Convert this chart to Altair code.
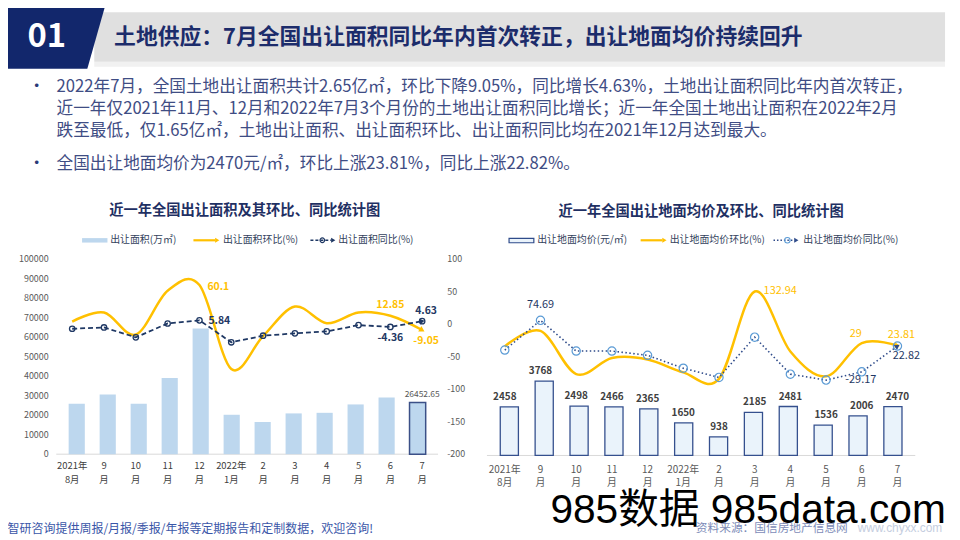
import altair as alt
import pandas as pd

OFF = 8
W, H = 952, 532
FONT = "Noto Sans CJK SC"
NAVY = "#12276C"
TNAVY = "#1C2C6B"
CNAVY = "#1F3063"
LNAVY = "#1F3864"
RNAVY = "#2F4B8A"
YEL = "#FFC000"
GREY = "#595959"
LEG = "#333F5C"

# ---------------- data ----------------
months_top = ["2021年", "9", "10", "11", "12", "2022年", "2", "3", "4", "5", "6", "7"]
months_bot = ["8月", "月", "月", "月", "月", "1月", "月", "月", "月", "月", "月", "月"]

area = [25800, 30600, 25800, 39100, 64400, 20200, 16500, 20900, 21200, 25500, 29000, 26452.65]
area_mom = [4.0, 17.8, -16.0, 51.3, 60.1, -69.0, -18.4, 27.0, 1.5, 18.0, 12.85, -9.05]
area_yoy = [-7.1, -5.1, -20.3, 1.0, 5.84, -27.9, -17.8, -14.2, -11.2, -1.5, -4.36, 4.63]
area_ticks = [0, 10000, 20000, 30000, 40000, 50000, 60000, 70000, 80000, 90000, 100000]
pct_ticks = [100, 50, 0, -50, -100, -150, -200]

price = [2458, 3768, 2498, 2466, 2365, 1650, 938, 2185, 2481, 1536, 2006, 2470]
price_mom = [22.0, 53.3, -33.7, -1.3, -4.1, -30.2, -43.2, 132.94, 12.0, -38.1, 29.0, 23.81]
price_yoy = [14.8, 74.69, 12.8, 12.8, 4.2, -21.8, -40.4, 40.8, -33.8, -45.8, -29.17, 22.82]

header_no = "01"
header_title = "土地供应：7月全国出让面积同比年内首次转正，出让地面均价持续回升"
bullet_lines = [
    "2022年7月，全国土地出让面积共计2.65亿㎡，环比下降9.05%，同比增长4.63%，土地出让面积同比年内首次转正，",
    "近一年仅2021年11月、12月和2022年7月3个月份的土地出让面积同比增长；近一年全国土地出让面积在2022年2月",
    "跌至最低，仅1.65亿㎡，土地出让面积、出让面积环比、出让面积同比均在2021年12月达到最大。",
    "全国出让地面均价为2470元/㎡，环比上涨23.81%，同比上涨22.82%。",
]
left_title = "近一年全国出让面积及其环比、同比统计图"
right_title = "近一年全国出让地面均价及环比、同比统计图"
left_legend = ["出让面积(万㎡)", "出让面积环比(%)", "出让面积同比(%)"]
right_legend = ["出让地面均价(元/㎡)", "出让地面均价环比(%)", "出让地面均价同比(%)"]
footer_left = "智研咨询提供周报/月报/季报/年报等定期报告和定制数据，欢迎咨询!"
footer_src = "资料来源：国信房地产信息网"
footer_url = "www.chyxx.com"
stamp = "985数据 985data.com"

layers = []


def P(v):
    return v - OFF


def one():
    return pd.DataFrame({"a": [0]})


def text(s, x, y, size, color, weight="normal", align="left", baseline="middle", font=FONT):
    layers.append(
        alt.Chart(pd.DataFrame({"t": [s]}))
        .mark_text(x=P(x), y=P(y), fontSize=size, color=color, fontWeight=weight,
                   align=align, baseline=baseline, font=font)
        .encode(text="t:N")
    )


def rect(x0, x1, y0, y1, fill, stroke=None, sw=0):
    kw = dict(fill=fill)
    if stroke:
        kw.update(stroke=stroke, strokeWidth=sw)
    layers.append(
        alt.Chart(one()).mark_rect(**kw).encode(
            x=alt.value(P(x0)), x2=alt.value(P(x1)), y=alt.value(P(y0)), y2=alt.value(P(y1)))
    )


def hline(x0, x1, y, color, sw, dash=None):
    kw = dict(color=color, strokeWidth=sw)
    if dash:
        kw["strokeDash"] = dash
    layers.append(
        alt.Chart(one()).mark_rule(**kw).encode(
            x=alt.value(P(x0)), x2=alt.value(P(x1)), y=alt.value(P(y)))
    )


def sym(x, y, shape, size, color, angle=0, filled=True, sw=1.0):
    kw = dict(shape=shape, size=size, opacity=1, angle=angle)
    if filled:
        kw.update(filled=True, fill=color, strokeWidth=0)
    else:
        kw.update(filled=False, stroke=color, strokeWidth=sw)
    layers.append(alt.Chart(one()).mark_point(**kw).encode(x=alt.value(P(x)), y=alt.value(P(y))))


def poly(pts, fill):
    xs = [P(a) for a, b in pts]
    ys = [P(b) for a, b in pts]
    cx = (min(xs) + max(xs)) / 2
    cy = (min(ys) + max(ys)) / 2
    s = max(max(xs) - min(xs), max(ys) - min(ys)) / 2
    d = "M" + "L".join(f"{(a - cx) / s:.4f},{(b - cy) / s:.4f}" for a, b in zip(xs, ys)) + "Z"
    layers.append(
        alt.Chart(one()).mark_point(shape=d, size=(2 * s) ** 2, filled=True, fill=fill,
                                    opacity=1, strokeWidth=0)
        .encode(x=alt.value(cx), y=alt.value(cy))
    )


def sc(domain, r0, r1):
    return alt.Scale(domain=domain, range=[P(r0), P(r1)], nice=False, zero=False)


def fmt(v):
    s = f"{v:.2f}".rstrip("0").rstrip(".")
    return s


# ---------------- header ----------------
rect(95, 953, 60, 65, "#F1F1F1")
rect(95, 953, 10, 60, "#E0E0E0")
poly([(0, 0), (107, 0), (88, 67), (0, 67)], NAVY)
text(header_no, 47, 35, 33, "white", weight="bold", align="center")
text(header_title, 115, 35, 22, TNAVY, weight="bold")

# ---------------- bullets ----------------
bullet_y = [85, 107.5, 130, 163]
for i, s in enumerate(bullet_lines):
    text(s, 57, bullet_y[i], 16.8, "#3F4D84")
text("•", 37, bullet_y[0], 17, "#2A3A78", align="center")
text("•", 37, bullet_y[3], 17, "#2A3A78", align="center")

# ---------------- left chart ----------------
dfL = pd.DataFrame({"idx": list(range(12)), "area": area, "mom": area_mom, "yoy": area_yoy,
                    "top": months_top, "bot": months_bot})
LXs = lambda: sc([-0.5, 11.5], 56.7, 441.7)
LA = lambda: sc([0, 100000], 455.7, 259)
LP = lambda: sc([-200, 100], 455.7, 259)

text(left_title, 246.7, 211, 14.4, CNAVY, weight="bold", align="center")
rect(82.7, 108.3, 237.8, 242.3, "#BDD7EE")
text(left_legend[0], 111, 240, 10, LEG)
hline(195, 217, 240, YEL, 2.2)
sym(219, 240, "triangle-right", 24, YEL)
text(left_legend[1], 224.7, 240, 10, LEG)
hline(313, 334, 240, LNAVY, 1.6, [3, 2])
sym(325, 240, "circle", 22, LNAVY, filled=False, sw=1.2)
sym(336, 240, "triangle-right", 24, LNAVY)
text(left_legend[2], 341, 240, 10, LEG)

hline(56.7, 441.7, 455.7, "#D9D9D9", 1)

layers.append(
    alt.Chart(dfL).mark_bar(size=16.3, fill="#BDD7EE").encode(
        x=alt.X("idx:Q", scale=LXs(), axis=None),
        y=alt.Y("area:Q", scale=LA(), axis=None),
        stroke=alt.condition("datum.idx == 11", alt.value("#3B5087"), alt.value("transparent")),
        strokeWidth=alt.condition("datum.idx == 11", alt.value(1.5), alt.value(0)),
    )
)
layers.append(
    alt.Chart(dfL).mark_line(interpolate="cardinal", color=YEL, strokeWidth=2.5).encode(
        x=alt.X("idx:Q", scale=LXs(), axis=None), y=alt.Y("mom:Q", scale=LP(), axis=None))
)
layers.append(
    alt.Chart(dfL).mark_line(color=LNAVY, strokeWidth=1.8, strokeDash=[5, 3]).encode(
        x=alt.X("idx:Q", scale=LXs(), axis=None), y=alt.Y("yoy:Q", scale=LP(), axis=None))
)
layers.append(
    alt.Chart(dfL).mark_point(shape="circle", filled=False, size=30, color=LNAVY, strokeWidth=1.3,
                              opacity=1).encode(
        x=alt.X("idx:Q", scale=LXs(), axis=None), y=alt.Y("yoy:Q", scale=LP(), axis=None))
)


def end_arrow(df, field, xs, ys, color, angle, size=40):
    layers.append(
        alt.Chart(df).transform_filter("datum.idx == 11")
        .mark_point(shape="triangle-right", filled=True, fill=color, strokeWidth=0, size=size,
                    opacity=1, angle=angle)
        .encode(x=alt.X("idx:Q", scale=xs, axis=None), y=alt.Y(f"{field}:Q", scale=ys, axis=None))
    )


end_arrow(dfL, "mom", LXs(), LP(), YEL, 30)
end_arrow(dfL, "yoy", LXs(), LP(), LNAVY, 350, 34)


def pt_label(values, idx, xs, ys, dx, dy, align, color, weight="bold", size=10.5):
    d = pd.DataFrame({"idx": [idx], "v": [values[idx]], "t": [fmt(values[idx])]})
    layers.append(
        alt.Chart(d).mark_text(dx=dx, dy=dy, align=align, baseline="middle", color=color,
                               fontWeight=weight, fontSize=size, font=FONT)
        .encode(x=alt.X("idx:Q", scale=xs, axis=None), y=alt.Y("v:Q", scale=ys, axis=None),
                text="t:N")
    )


pt_label(area_mom, 4, LXs(), LP(), 8, 2, "left", YEL)
pt_label(area_yoy, 4, LXs(), LP(), 9, 1, "left", LNAVY)
pt_label(area_mom, 10, LXs(), LP(), 0, -11, "center", YEL)
pt_label(area_yoy, 10, LXs(), LP(), 0, 11, "center", LNAVY)
pt_label(area_yoy, 11, LXs(), LP(), 4, -10, "center", LNAVY)
pt_label(area_mom, 11, LXs(), LP(), 4, 11, "center", YEL)
pt_label(area, 11, LXs(), LA(), 0, -9, "center", GREY, weight="normal", size=8.5)

dfAT = pd.DataFrame({"v": area_ticks, "t": [str(v) for v in area_ticks]})
layers.append(
    alt.Chart(dfAT).mark_text(x=P(49), align="right", baseline="middle", fontSize=9, color=GREY,
                              font=FONT)
    .encode(y=alt.Y("v:Q", scale=LA(), axis=None), text="t:N")
)
dfPT = pd.DataFrame({"v": pct_ticks, "t": [str(v) for v in pct_ticks]})
layers.append(
    alt.Chart(dfPT).mark_text(x=P(451), align="left", baseline="middle", fontSize=9, color=GREY,
                              font=FONT)
    .encode(y=alt.Y("v:Q", scale=LP(), axis=None), text="t:N")
)
for col, yy in (("top", 468), ("bot", 482)):
    layers.append(
        alt.Chart(dfL).mark_text(y=P(yy), align="center", baseline="middle", fontSize=9.5,
                                 color="#404040", font=FONT)
        .encode(x=alt.X("idx:Q", scale=LXs(), axis=None), text=f"{col}:N")
    )

# ---------------- right chart ----------------
dfR = pd.DataFrame({"idx": list(range(12)), "price": price, "mom": price_mom, "yoy": price_yoy,
                    "top": months_top, "bot": months_bot,
                    "pt": [fmt(v) for v in price]})
RXs = lambda: sc([-0.5, 11.5], 491, 923)
RA = lambda: sc([0, 10000], 457, 258)
RP = lambda: sc([-100, 150], 408.1, 283.1)

text(right_title, 707, 212, 14.4, CNAVY, weight="bold", align="center")
rect(513.3, 538.3, 238, 242.5, "#EAF3FB", stroke=RNAVY, sw=1.2)
text(right_legend[0], 541.7, 240, 10, LEG)
hline(646, 668, 240, YEL, 2.2)
sym(670, 240, "triangle-right", 24, YEL)
text(right_legend[1], 675.3, 240, 10, LEG)
hline(780, 801, 240, RNAVY, 1.5, [1.5, 2])
sym(794, 240, "circle", 30, "#5B9BD5", filled=False, sw=1.1)
sym(803, 240, "triangle-right", 24, RNAVY)
text(right_legend[2], 810, 240, 10, LEG)

hline(491, 923, 457, "#D9D9D9", 1)
layers.append(
    alt.Chart(dfR).mark_bar(size=18.3, fill="#EAF3FB", stroke="#35508E", strokeWidth=1.3).encode(
        x=alt.X("idx:Q", scale=RXs(), axis=None), y=alt.Y("price:Q", scale=RA(), axis=None))
)
layers.append(
    alt.Chart(dfR).mark_text(dy=-10, align="center", baseline="middle", fontSize=10,
                             fontWeight="bold", color="#404040", font=FONT)
    .encode(x=alt.X("idx:Q", scale=RXs(), axis=None), y=alt.Y("price:Q", scale=RA(), axis=None),
            text="pt:N")
)
layers.append(
    alt.Chart(dfR).mark_line(interpolate="cardinal", color=YEL, strokeWidth=2.5).encode(
        x=alt.X("idx:Q", scale=RXs(), axis=None), y=alt.Y("mom:Q", scale=RP(), axis=None))
)
layers.append(
    alt.Chart(dfR).mark_line(color=RNAVY, strokeWidth=1.6, strokeDash=[1.5, 2.5]).encode(
        x=alt.X("idx:Q", scale=RXs(), axis=None), y=alt.Y("yoy:Q", scale=RP(), axis=None))
)
layers.append(
    alt.Chart(dfR).mark_point(shape="circle", filled=False, size=70, color="#5B9BD5",
                              strokeWidth=1.2, opacity=1).encode(
        x=alt.X("idx:Q", scale=RXs(), axis=None), y=alt.Y("yoy:Q", scale=RP(), axis=None))
)
end_arrow(dfR, "mom", RXs(), RP(), YEL, 8, 34)
end_arrow(dfR, "yoy", RXs(), RP(), RNAVY, 325, 34)

pt_label(price_yoy, 1, RXs(), RP(), 0, -15, "center", LNAVY, weight="normal", size=11)
pt_label(price_mom, 7, RXs(), RP(), 9, 0, "left", YEL, weight="normal", size=11)
pt_label(price_mom, 10, RXs(), RP(), -6, -9, "center", YEL, weight="normal", size=11)
pt_label(price_mom, 11, RXs(), RP(), 4, -11, "center", YEL, weight="normal", size=11)
pt_label(price_yoy, 11, RXs(), RP(), 9, 10, "center", LNAVY, weight="normal", size=11)
pt_label(price_yoy, 10, RXs(), RP(), -1, 8, "center", LNAVY, weight="normal", size=11)

for col, yy in (("top", 472), ("bot", 485)):
    layers.append(
        alt.Chart(dfR).mark_text(y=P(yy), align="center", baseline="middle", fontSize=10,
                                 color=GREY, font=FONT)
        .encode(x=alt.X("idx:Q", scale=RXs(), axis=None), text=f"{col}:N")
    )

# ---------------- footer ----------------
text(footer_left, 7.5, 531, 12.1, "#3A56A8")
text(footer_src, 701.7, 530, 11.8, "#7D8CB8")
text(footer_url, 865, 530, 12, "#C5CEE0", font="Liberation Sans")
text(stamp, 555, 525, 41, "black", baseline="alphabetic", font="Liberation Sans, Noto Sans CJK SC")

chart = (
    alt.layer(*layers)
    .resolve_scale(x="independent", y="independent")
    .properties(width=W, height=H, autosize=alt.AutoSizeParams(type="none"), padding=0,
                background="white")
    .configure_view(strokeWidth=0)
)

chart.save("out.html", embed_options={"renderer": "svg", "actions": False})
